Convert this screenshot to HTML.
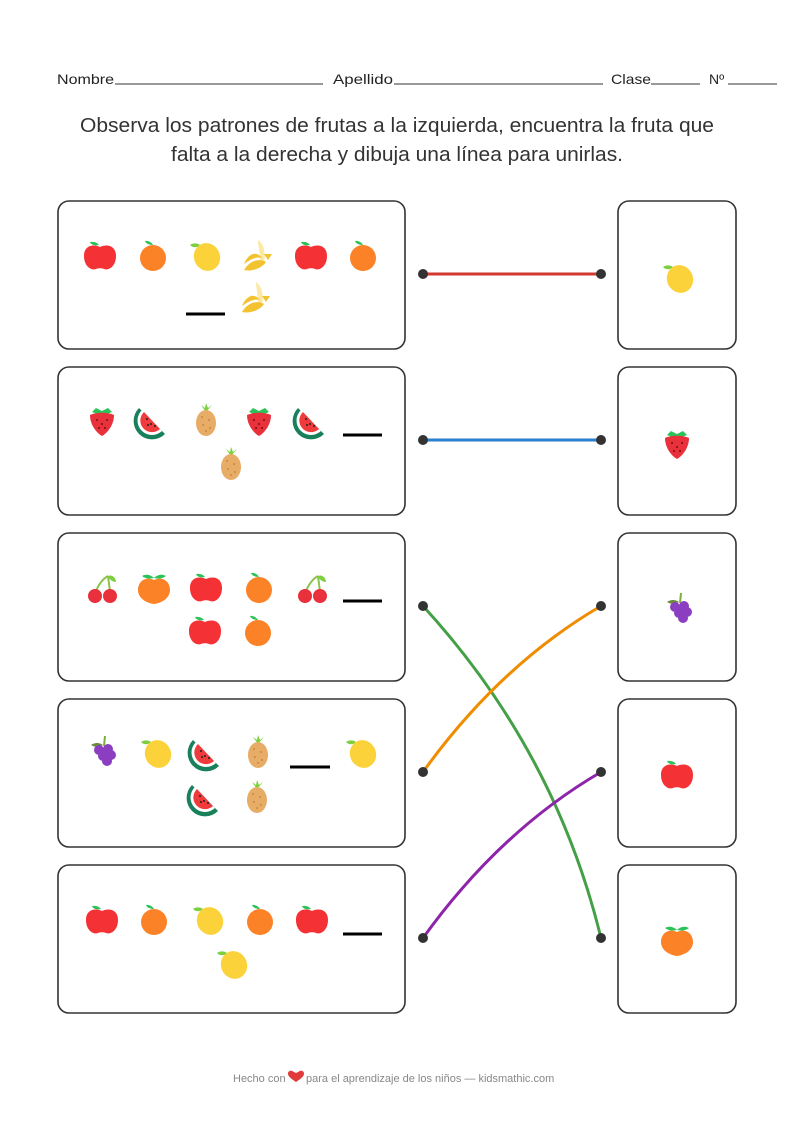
<!DOCTYPE html>
<html><head><meta charset="utf-8"><style>
html,body{margin:0;padding:0;background:#fff;}
body{width:794px;height:1123px;position:relative;overflow:hidden;font-family:"Liberation Sans",sans-serif;}
</style></head><body>
<svg width="794" height="1123" viewBox="0 0 794 1123" xmlns="http://www.w3.org/2000/svg">
<defs>
<g id="apple"><path d="M-1,-11 C-4,-15 -9,-14 -10,-14 C-9,-11 -5,-10 -1,-11Z" fill="#2cc25a"/><path d="M0,-9 C-6,-12 -16,-11 -16,0 C-16,10 -9,15 -4,13 C-2,12 2,12 4,13 C9,15 16,10 16,0 C16,-11 6,-12 0,-9Z" fill="#f43235"/></g>
<g id="orange"><path d="M0,-11 C-3,-16 -8,-15 -8,-15 C-7,-12 -3,-11 0,-11Z" fill="#2cc25a"/><circle cx="0" cy="2" r="13" fill="#fb8227"/></g>
<g id="lemon"><path d="M-6,-10 C-10,-13 -15,-11 -16,-10 C-13,-7 -9,-7 -6,-10Z" fill="#7ccf3e"/><ellipse cx="1" cy="2" rx="13" ry="14" transform="rotate(-25 1 2)" fill="#fcd23a"/></g>
<g id="banana"><path d="M0,-16 C6,-12 8,-2 6,6 L2,4 C2,-4 0,-10 0,-16Z" fill="#fbe9a5"/><path d="M-14,8 C-10,-2 -2,-6 4,2 C-2,0 -8,4 -14,8Z" fill="#f2c231"/><path d="M-14,14 C-8,4 2,2 8,6 C4,12 -6,16 -14,14Z" fill="#f2c231"/><path d="M6,-2 L14,-2 L10,4Z" fill="#f2c231"/></g>
<g id="straw"><path d="M-10,-8 L0,-4 L10,-8 L6,-12 L0,-9 L-6,-12Z" fill="#2cc25a"/><path d="M-12,-5 C-12,6 -4,14 0,16 C4,14 12,6 12,-5 C6,-8 -6,-8 -12,-5Z" fill="#e8313b"/><g fill="#7a1010"><circle cx="-5" cy="0" r="1"/><circle cx="5" cy="0" r="1"/><circle cx="0" cy="4" r="1"/><circle cx="-3" cy="8" r="1"/><circle cx="3" cy="8" r="1"/></g></g>
<g id="melon"><path d="M-14,-12 A18,18 0 0 0 12,14 Z" fill="#18805a"/><path d="M-11,-10 A14,14 0 0 0 9,11 Z" fill="#fff"/><path d="M-9,-8 A11,11 0 0 0 7,9 Z" fill="#ef3b3b"/><g fill="#222"><circle cx="-6" cy="-1" r="1"/><circle cx="-2" cy="4" r="1"/><circle cx="2" cy="6" r="1"/><circle cx="-5" cy="5" r="1"/></g></g>
<g id="pine"><path d="M0,-8 L-5,-15 L-1,-12 L0,-17 L2,-12 L6,-15Z" fill="#7ccf3e"/><ellipse cx="0" cy="3" rx="10" ry="13" fill="#e7ac66"/><g fill="#c98a40"><circle cx="-4" cy="-3" r="1"/><circle cx="3" cy="0" r="1"/><circle cx="-3" cy="5" r="1"/><circle cx="4" cy="8" r="1"/><circle cx="0" cy="11" r="1"/></g></g>
<g id="cherry"><path d="M-7,6 C-4,-4 2,-10 6,-12 M6,-12 C7,-4 8,2 8,6" stroke="#8bc34a" stroke-width="2" fill="none"/><path d="M6,-12 C10,-14 14,-10 14,-6 C10,-6 7,-9 6,-12Z" fill="#7ccf3e"/><circle cx="-7" cy="8" r="7" fill="#e8313b"/><circle cx="8" cy="8" r="7" fill="#e8313b"/></g>
<g id="peach"><path d="M0,-10 C-6,-16 -12,-12 -12,-12 C-8,-9 -4,-9 0,-10 C4,-9 8,-9 12,-12 C12,-12 6,-16 0,-10Z" fill="#2cc25a"/><path d="M0,-8 C-8,-12 -16,-7 -16,2 C-16,10 -8,15 0,16 C8,15 16,10 16,2 C16,-7 8,-12 0,-8Z" fill="#fb8227"/></g>
<g id="grape"><path d="M0,-6 L1,-16" stroke="#7ab03a" stroke-width="2"/><path d="M-1,-7 C-6,-11 -12,-8 -13,-7 C-8,-4 -4,-5 -1,-7Z" fill="#6a8c3a"/><g fill="#8b3fc0"><circle cx="-5" cy="-2" r="5"/><circle cx="4" cy="-3" r="5"/><circle cx="-1" cy="4" r="5"/><circle cx="7" cy="3" r="5"/><circle cx="3" cy="9" r="5"/></g></g>
</defs>

<g font-family="'Liberation Sans',sans-serif" font-size="14" fill="#222">
<text x="57" y="84" textLength="57" lengthAdjust="spacingAndGlyphs">Nombre</text><line x1="115" y1="84" x2="323" y2="84" stroke="#333" stroke-width="1"/>
<text x="333" y="84" textLength="60" lengthAdjust="spacingAndGlyphs">Apellido</text><line x1="394" y1="84" x2="603" y2="84" stroke="#333" stroke-width="1"/>
<text x="611" y="84" textLength="40" lengthAdjust="spacingAndGlyphs">Clase</text><line x1="651" y1="84" x2="700" y2="84" stroke="#333" stroke-width="1"/>
<text x="709" y="84">Nº</text><line x1="728" y1="84" x2="777" y2="84" stroke="#333" stroke-width="1"/>
</g>
<g font-family="'Liberation Sans',sans-serif" font-size="20" fill="#333" text-anchor="middle">
<text x="397" y="132" textLength="634" lengthAdjust="spacingAndGlyphs">Observa los patrones de frutas a la izquierda, encuentra la fruta que</text>
<text x="397" y="161" textLength="452" lengthAdjust="spacingAndGlyphs">falta a la derecha y dibuja una línea para unirlas.</text>
</g>

<g fill="none" stroke="#333" stroke-width="1.6">
<rect x="58" y="201" width="347" height="148" rx="11"/>
<rect x="58" y="367" width="347" height="148" rx="11"/>
<rect x="58" y="533" width="347" height="148" rx="11"/>
<rect x="58" y="699" width="347" height="148" rx="11"/>
<rect x="58" y="865" width="347" height="148" rx="11"/>
<rect x="618" y="201" width="118" height="148" rx="11"/>
<rect x="618" y="367" width="118" height="148" rx="11"/>
<rect x="618" y="533" width="118" height="148" rx="11"/>
<rect x="618" y="699" width="118" height="148" rx="11"/>
<rect x="618" y="865" width="118" height="148" rx="11"/>
</g>

<g stroke="#000" stroke-width="3">
<line x1="186" y1="314" x2="225" y2="314"/>
<line x1="343" y1="435" x2="382" y2="435"/>
<line x1="343" y1="601" x2="382" y2="601"/>
<line x1="290" y1="767" x2="330" y2="767"/>
<line x1="343" y1="934" x2="382" y2="934"/>
</g>

<use href="#apple" x="100" y="256"/><use href="#orange" x="153" y="256"/><use href="#lemon" x="206" y="255"/><use href="#banana" x="258" y="256"/><use href="#apple" x="311" y="256"/><use href="#orange" x="363" y="256"/><use href="#banana" x="256" y="298"/>
<use href="#straw" x="102" y="420"/><use href="#melon" x="153" y="420"/><use href="#pine" x="206" y="420"/><use href="#straw" x="259" y="420"/><use href="#melon" x="312" y="420"/><use href="#pine" x="231" y="464"/>
<use href="#cherry" x="102" y="588"/><use href="#peach" x="154" y="588"/><use href="#apple" x="206" y="588"/><use href="#orange" x="259" y="588"/><use href="#cherry" x="312" y="588"/><use href="#apple" x="205" y="631"/><use href="#orange" x="258" y="631"/>
<use href="#grape" x="104" y="752"/><use href="#lemon" x="157" y="752"/><use href="#melon" x="207" y="752"/><use href="#pine" x="258" y="752"/><use href="#lemon" x="362" y="752"/><use href="#melon" x="206" y="797"/><use href="#pine" x="257" y="797"/>
<use href="#apple" x="102" y="920"/><use href="#orange" x="154" y="920"/><use href="#lemon" x="209" y="919"/><use href="#orange" x="260" y="920"/><use href="#apple" x="312" y="920"/><use href="#lemon" x="233" y="963"/>
<use href="#lemon" x="679" y="277"/><use href="#straw" x="677" y="443"/><use href="#grape" x="680" y="609"/><use href="#apple" x="677" y="775"/><use href="#peach" x="677" y="940"/>

<g fill="none" stroke-width="3" stroke-linecap="round">
<line x1="423" y1="274" x2="601" y2="274" stroke="#d2392f"/>
<line x1="423" y1="440" x2="601" y2="440" stroke="#2a7fcf"/>
<path d="M423,606 Q555,750 601,938" stroke="#43a047"/>
<path d="M423,772 Q500,665 601,606" stroke="#f08c00"/>
<path d="M423,938 Q500,831 601,772" stroke="#8e24aa"/>
</g>
<g fill="#333">
<circle cx="423" cy="274" r="5"/><circle cx="601" cy="274" r="5"/>
<circle cx="423" cy="440" r="5"/><circle cx="601" cy="440" r="5"/>
<circle cx="423" cy="606" r="5"/><circle cx="601" cy="606" r="5"/>
<circle cx="423" cy="772" r="5"/><circle cx="601" cy="772" r="5"/>
<circle cx="423" cy="938" r="5"/><circle cx="601" cy="938" r="5"/>
</g>

<g font-family="'Liberation Sans',sans-serif" font-size="11" fill="#888">
<text x="233" y="1082">Hecho con</text>
<text x="306" y="1082">para el aprendizaje de los niños — kidsmathic.com</text>
</g>
<path d="M296,1082 C290,1078 288,1076 288,1073.5 C288,1071 291,1070 293,1071.5 L296,1073 L299,1071.5 C301,1070 304,1071 304,1073.5 C304,1076 302,1078 296,1082Z" fill="#e03a3a"/>
</svg>
</body></html>
